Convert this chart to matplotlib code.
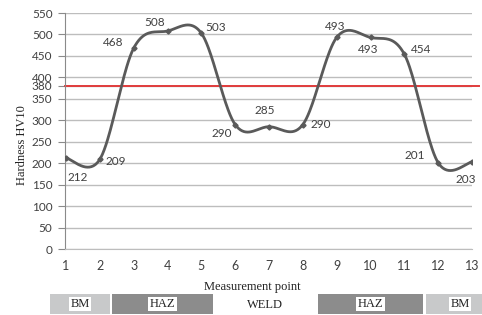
import numpy as np
import matplotlib
matplotlib.use('Agg')
import matplotlib.pyplot as plt
from matplotlib.patches import Rectangle
import matplotlib.transforms as mtransforms

# measured hardness along the weld cross-section
points = list(range(1, 14))
hardness = [212, 209, 468, 508, 503, 290, 285, 290, 493, 493, 454, 201, 203]
limit = 380
yticks = [0, 50, 100, 150, 200, 250, 300, 350, 380, 400, 450, 500, 550]

# zones under the axis (label, start point, end point)
zone_names = ['BM', 'HAZ', 'WELD', 'HAZ', 'BM']
zone_edges = [0.5, 2.33, 5.38, 8.4, 11.6, 13.7]
zone_colors = ['#c8c9ca', '#8c8c8c', 'none', '#8c8c8c', '#c8c9ca']

# label offsets in pixels (dx, dy)
label_off = [(12, -19), (16, -2), (-21, 6), (-13, 9), (14, 6), (-13, -9), (-4, 16),
             (18, 0), (-1, 11), (-2, -12), (17, 5), (-23, 7), (-6, -18)]

W, H = 482, 315
fig = plt.figure(figsize=(W / 100, H / 100), dpi=100)
ax = fig.add_axes([65 / W, 66 / H, (472 - 65) / W, (302 - 66) / H])
ax.set_xlim(0.97, 13.0)
ax.set_ylim(0, 550)

sans = 'Lato'
serif = 'Liberation Serif'

ax.set_yticks(yticks)
ax.set_xticks(points)
ax.grid(axis='y', color='#bdbdbd', lw=1)
ax.set_axisbelow(True)
for s in ['top', 'right']:
    ax.spines[s].set_visible(False)
ax.spines['bottom'].set_color('#bdbdbd')
ax.spines['left'].set_color('#8a8a8a')
ax.tick_params(axis='y', length=5, color='#8a8a8a', pad=4, labelsize=8.5, labelcolor='#404040')
ax.tick_params(axis='x', length=0, pad=8, labelsize=9, labelcolor='#404040')
for lab in ax.get_xticklabels() + ax.get_yticklabels():
    lab.set_family(sans)

# smooth curve (Catmull-Rom in pixel space, like the spreadsheet smoothing)
fig.canvas.draw()
P = ax.transData.transform(np.column_stack([points, hardness]))
n = len(P)
curve = []
for i in range(n - 1):
    p0 = P[max(i - 1, 0)]
    p1 = P[i]
    p2 = P[i + 1]
    p3 = P[min(i + 2, n - 1)]
    c1 = p1 + (p2 - p0) / 6
    c2 = p2 - (p3 - p1) / 6
    t = np.linspace(0, 1, 40)[:, None]
    seg = (1 - t) ** 3 * p1 + 3 * (1 - t) ** 2 * t * c1 + 3 * (1 - t) * t ** 2 * c2 + t ** 3 * p2
    curve.append(seg)
curve = ax.transData.inverted().transform(np.vstack(curve))
ax.plot(curve[:, 0], curve[:, 1], color='#5a5a5a', lw=2, zorder=3)
ax.plot(points, hardness, 'D', color='#5a5a5a', ms=2.6, zorder=4)

ax.plot([0.97, 13.2], [limit, limit], color='#e03c3c', lw=1.4, clip_on=False, zorder=2)

for x, y, (dx, dy) in zip(points, hardness, label_off):
    ax.annotate(str(y), (x, y), xytext=(dx, dy), textcoords='offset pixels',
                ha='center', va='center', fontsize=8.5, family=sans, color='#404040')

ax.set_xlabel('Measurement point', family=serif, fontsize=9, color='#222222')
ax.set_ylabel('Hardness HV10', family=serif, fontsize=9, color='#222222')
ax.xaxis.set_label_coords(0.46, -0.135)
ax.yaxis.set_label_coords(-0.09, 0.44)

# zone band below the chart
trans = mtransforms.blended_transform_factory(ax.transData, fig.transFigure)
for name, x0, x1, c in zip(zone_names, zone_edges[:-1], zone_edges[1:], zone_colors):
    if c != 'none':
        ax.add_patch(Rectangle((x0 + 0.04, 1 / H), x1 - x0 - 0.08, 20 / H, transform=trans,
                               facecolor=c, edgecolor='none', clip_on=False))
        ax.text((x0 + x1) / 2, 11 / H, name, transform=trans, ha='center', va='center',
                family=serif, fontsize=9, color='#222222',
                bbox=dict(facecolor='white', edgecolor='none', pad=1))
    else:
        ax.text((x0 + x1) / 2, 10 / H, name, transform=trans, ha='center', va='center',
                family=serif, fontsize=9, color='#222222')

fig.savefig('out.png', dpi=100)
